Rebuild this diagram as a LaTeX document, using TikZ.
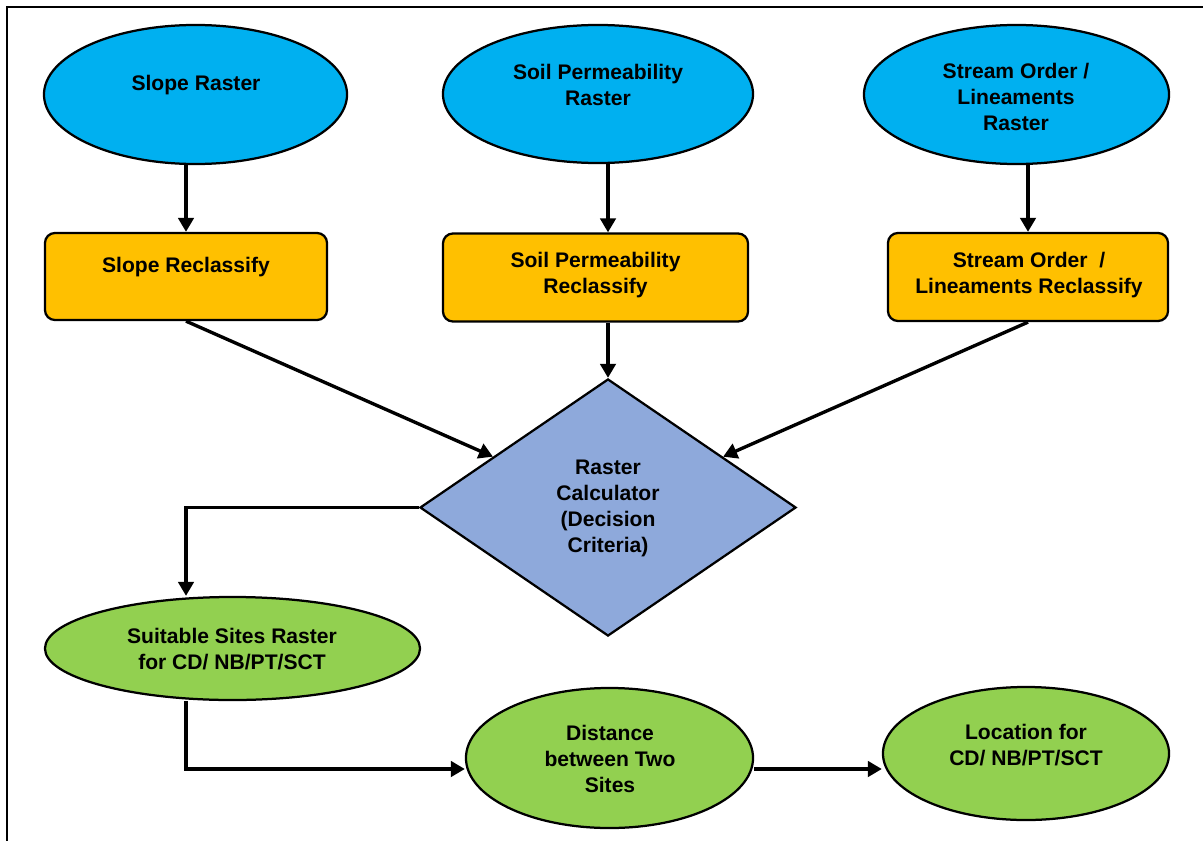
\documentclass[tikz,border=0pt]{standalone}
\usepackage{fontspec}
\setmainfont{Liberation Sans}
\usepackage{tikz}
\usetikzlibrary{shapes.geometric, arrows.meta}
\definecolor{rastblue}{HTML}{00B0F0}
\definecolor{reclorange}{HTML}{FFC000}
\definecolor{calcblue}{HTML}{8EA9DB}
\definecolor{sitegreen}{HTML}{92D050}
\tikzstyle{rasterell} = [ellipse, fill=rastblue, draw=black, line width=1.6pt, inner sep=0pt]
\tikzstyle{reclbox} = [rectangle, rounded corners=0.25cm,
fill=reclorange, draw=black, line width=1.6pt, inner sep=0pt]
\tikzstyle{calcdiam} = [diamond, fill=calcblue, draw=black, line width=1.6pt,
minimum width=9.4cm, minimum height=6.425cm, inner sep=0pt]
\tikzstyle{siteell} = [ellipse, fill=sitegreen, draw=black, line width=1.6pt, inner sep=0pt]
\tikzstyle{lbl} = [align=center, inner sep=0pt, font=\fontsize{15}{18.5}\selectfont\bfseries]
\tikzstyle{arrow} = [-{Triangle[length=10pt, width=11pt]}, line width=2.4pt]

\begin{document}
\begin{tikzpicture}[x=0.025cm, y=-0.025cm]
    \useasboundingbox (0,0) rectangle (1203,841);
    \draw[line width=1.6pt] (7,841) -- (7,7) -- (1203,7);

    % input rasters
    \node (sloper)  [rasterell, minimum width=7.575cm, minimum height=3.475cm] at (195.5,94.5) {};
    \node (soilr)   [rasterell, minimum width=7.75cm,  minimum height=3.45cm]  at (598,94) {};
    \node (streamr) [rasterell, minimum width=7.625cm, minimum height=3.475cm] at (1016.5,94.5) {};
    \node (sloper-t)  [lbl] at (196,85)   {Slope Raster};
    \node (soilr-t)   [lbl] at (598,84.5) {Soil Permeability\\Raster};
    \node (streamr-t) [lbl] at (1016,97)  {Stream Order /\\Lineaments\\Raster};

    % reclassify steps
    \node (slopebox)  [reclbox, minimum width=7.05cm,  minimum height=2.175cm] at (186,276.5) {};
    \node (soilbox)   [reclbox, minimum width=7.625cm, minimum height=2.2cm]   at (595.5,277.5) {};
    \node (streambox) [reclbox, minimum width=7.0cm,   minimum height=2.2cm]   at (1028,277) {};
    \node (slopebox-t)  [lbl] at (186,267)      {Slope Reclassify};
    \node (soilbox-t)   [lbl] at (595.5,275.5)  {Soil Permeability\\Reclassify};
    \node (streambox-t) [lbl] at (1029,275.5)   {Stream Order~ /\\Lineaments Reclassify};

    % overlay
    \node (calc)   [calcdiam] at (608,507.5) {};
    \node (calc-t) [lbl] at (608,508) {Raster\\Calculator\\(Decision\\Criteria)};

    % outputs
    \node (suit) [siteell, minimum width=9.375cm, minimum height=2.575cm] at (232.5,648.5) {};
    \node (dist) [siteell, minimum width=7.175cm, minimum height=3.5cm]   at (609.5,758) {};
    \node (loc)  [siteell, minimum width=7.15cm,  minimum height=3.325cm] at (1026,753.5) {};
    \node (suit-t) [lbl] at (232,649)  {Suitable Sites Raster\\for CD/ NB/PT/SCT};
    \node (dist-t) [lbl] at (610,759)  {Distance\\between Two\\Sites};
    \node (loc-t)  [lbl] at (1026,745) {Location for\\CD/ NB/PT/SCT};

    \draw[arrow] (sloper.south -| slopebox) -- (slopebox.north);
    \draw[arrow] (soilr.south -| calc) -- (soilbox.north -| calc);
    \draw[arrow] (streamr.south -| streambox) -- (streambox.north);
    \draw[arrow] (slopebox.south) -- (calc);
    \draw[arrow] (soilbox.south -| calc) -- (calc.north);
    \draw[arrow] (streambox.south) -- (calc);
    \draw[arrow] (calc.west) -| (suit.north -| slopebox);
    \draw[arrow] (suit.south -| slopebox) |- ([yshift=-0.275cm]dist.west);
    \draw[arrow] ([yshift=-0.275cm]dist.east) -- ([yshift=-0.275cm]dist.east -| loc.west);
\end{tikzpicture}
\end{document}
